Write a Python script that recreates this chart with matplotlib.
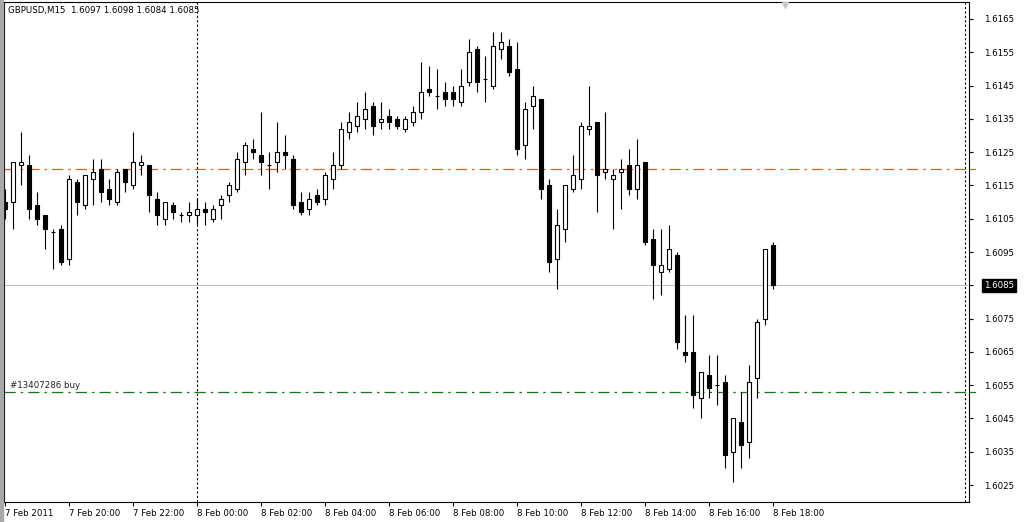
import matplotlib.pyplot as plt
from matplotlib.patches import Rectangle
import matplotlib.transforms as mtransforms
import numpy as np

# GBPUSD M15, bars from 7 Feb 2011 18:00 to 8 Feb 2011 18:00
opens = [1.6110, 1.6110, 1.6121, 1.6121, 1.6109, 1.6106, 1.6101, 1.6102, 1.6093, 1.6116,
         1.6109, 1.6117, 1.6120, 1.6114, 1.6110, 1.6120, 1.6115, 1.6121, 1.6121, 1.6111,
         1.6105, 1.6109, 1.6106, 1.6106, 1.6106, 1.6108, 1.6105, 1.6109, 1.6112, 1.6114,
         1.6122, 1.6126, 1.6124, 1.6121, 1.6122, 1.6125, 1.6123, 1.6110, 1.6108, 1.6112,
         1.6111, 1.6117, 1.6121, 1.6131, 1.6133, 1.6135, 1.6139, 1.6134, 1.6136, 1.6135,
         1.6132, 1.6134, 1.6137, 1.6144, 1.6142, 1.6143, 1.6143, 1.6140, 1.6146, 1.6156,
         1.6147, 1.6145, 1.6156, 1.6157, 1.6150, 1.6127, 1.6139, 1.6141, 1.6115, 1.6093,
         1.6102, 1.6114, 1.6117, 1.6132, 1.6134, 1.6119, 1.6117, 1.6119, 1.6121, 1.6114,
         1.6122, 1.6099, 1.6089, 1.6090, 1.6094, 1.6065, 1.6065, 1.6051, 1.6058, 1.6055,
         1.6056, 1.6035, 1.6044, 1.6038, 1.6057, 1.6075, 1.6097]
highs = [1.6114, 1.6122, 1.6131, 1.6124, 1.6113, 1.6106, 1.6102, 1.6103, 1.6118, 1.6117,
         1.6118, 1.6123, 1.6123, 1.6117, 1.6120, 1.6120, 1.6131, 1.6124, 1.6121, 1.6113,
         1.6110, 1.6110, 1.6107, 1.6110, 1.6111, 1.6110, 1.6109, 1.6112, 1.6116, 1.6125,
         1.6128, 1.6129, 1.6137, 1.6125, 1.6134, 1.6130, 1.6124, 1.6113, 1.6113, 1.6114,
         1.6119, 1.6125, 1.6134, 1.6137, 1.6140, 1.6143, 1.6140, 1.6140, 1.6138, 1.6136,
         1.6136, 1.6139, 1.6152, 1.6151, 1.6150, 1.6146, 1.6145, 1.6150, 1.6159, 1.6157,
         1.6154, 1.6161, 1.6161, 1.6159, 1.6158, 1.6140, 1.6145, 1.6141, 1.6117, 1.6108,
         1.6115, 1.6124, 1.6134, 1.6145, 1.6134, 1.6137, 1.6120, 1.6123, 1.6126, 1.6129,
         1.6122, 1.6102, 1.6102, 1.6103, 1.6095, 1.6076, 1.6076, 1.6059, 1.6064, 1.6064,
         1.6058, 1.6045, 1.6053, 1.6061, 1.6075, 1.6096, 1.6098]
lows = [1.6105, 1.6102, 1.6115, 1.6105, 1.6103, 1.6096, 1.6090, 1.6091, 1.6091, 1.6106,
        1.6108, 1.6109, 1.6110, 1.6109, 1.6109, 1.6113, 1.6114, 1.6118, 1.6107, 1.6103,
        1.6103, 1.6105, 1.6104, 1.6104, 1.6103, 1.6103, 1.6104, 1.6105, 1.6110, 1.6113,
        1.6118, 1.6123, 1.6118, 1.6114, 1.6119, 1.6120, 1.6108, 1.6106, 1.6106, 1.6109,
        1.6109, 1.6114, 1.6120, 1.6129, 1.6131, 1.6132, 1.6130, 1.6132, 1.6132, 1.6132,
        1.6131, 1.6133, 1.6135, 1.6142, 1.6138, 1.6139, 1.6139, 1.6139, 1.6145, 1.6143,
        1.6140, 1.6144, 1.6153, 1.6148, 1.6124, 1.6123, 1.6132, 1.6111, 1.6089, 1.6084,
        1.6098, 1.6113, 1.6114, 1.6130, 1.6107, 1.6117, 1.6102, 1.6108, 1.6112, 1.6111,
        1.6097, 1.6081, 1.6082, 1.6089, 1.6066, 1.6062, 1.6048, 1.6045, 1.6051, 1.6049,
        1.6030, 1.6026, 1.6030, 1.6033, 1.6051, 1.6073, 1.6084]
closes = [1.6108, 1.6122, 1.6122, 1.6108, 1.6105, 1.6102, 1.6101, 1.6092, 1.6117, 1.6110,
          1.6118, 1.6119, 1.6113, 1.6111, 1.6119, 1.6116, 1.6122, 1.6122, 1.6112, 1.6106,
          1.6110, 1.6107, 1.6106, 1.6107, 1.6108, 1.6107, 1.6108, 1.6111, 1.6115, 1.6123,
          1.6127, 1.6125, 1.6122, 1.6121, 1.6125, 1.6124, 1.6109, 1.6107, 1.6111, 1.6110,
          1.6118, 1.6121, 1.6132, 1.6134, 1.6136, 1.6138, 1.6133, 1.6135, 1.6134, 1.6133,
          1.6135, 1.6137, 1.6143, 1.6143, 1.6142, 1.6141, 1.6141, 1.6145, 1.6155, 1.6146,
          1.6147, 1.6157, 1.6158, 1.6149, 1.6126, 1.6138, 1.6142, 1.6114, 1.6092, 1.6103,
          1.6115, 1.6118, 1.6133, 1.6133, 1.6118, 1.6120, 1.6118, 1.6120, 1.6114, 1.6121,
          1.6098, 1.6091, 1.6091, 1.6096, 1.6068, 1.6064, 1.6052, 1.6059, 1.6054, 1.6055,
          1.6034, 1.6045, 1.6037, 1.6056, 1.6074, 1.6096, 1.6085]

time_labels = ["7 Feb 2011", "7 Feb 20:00", "7 Feb 22:00", "8 Feb 00:00", "8 Feb 02:00",
               "8 Feb 04:00", "8 Feb 06:00", "8 Feb 08:00", "8 Feb 10:00", "8 Feb 12:00",
               "8 Feb 14:00", "8 Feb 16:00", "8 Feb 18:00"]
price_ticks = [1.6025, 1.6035, 1.6045, 1.6055, 1.6065, 1.6075, 1.6085, 1.6095,
               1.6105, 1.6115, 1.6125, 1.6135, 1.6145, 1.6155, 1.6165]

bid = 1.6085
order_price = 1.6053
order_label = "#13407286 buy"
stop_price = 1.6120
day_breaks = [24, 120]   # bar index of 8 Feb 00:00 and 9 Feb 00:00

o = np.array(opens)
h = np.array(highs)
l = np.array(lows)
c = np.array(closes)
x = np.arange(len(o))

plt.rcParams['font.family'] = 'DejaVu Sans'
fs = 6.2
orange = '#d4622a'
green = '#17731a'

fig = plt.figure(figsize=(10.24, 5.22), dpi=100, facecolor='white')
ax = fig.add_axes([4/1024, 20/522, 965/1024, 500/522])
ax.set_facecolor('white')

# window frame on the left
fig.patches.append(Rectangle((0, 0), 3/1024, 1, transform=fig.transFigure,
                             color='#a8a8a8', zorder=0))

ax.set_xlim(-0.125, 120.5)
ax.set_ylim(1.60199, 1.61701)

# candles
ax.vlines(x, l, h, color='black', linewidth=0.8, zorder=3)
up = c >= o
body_col = np.where(up, 'white', 'black')
ax.bar(x, np.abs(c - o), bottom=np.minimum(o, c), width=0.62, color=body_col,
       edgecolor='black', linewidth=0.8, zorder=4)

# level lines
ax.axhline(bid, color='#c0c0c0', linewidth=0.8, zorder=1)
ax.axhline(stop_price, color=orange, linewidth=0.9, linestyle=(0, (9, 4, 2, 4)), zorder=2)
ax.axhline(order_price, color=green, linewidth=0.9, linestyle=(0, (9, 4, 2, 4)), zorder=2)
for d in day_breaks:
    ax.axvline(d, color='black', linewidth=0.8, linestyle=(0, (2, 2)), zorder=2)

ax.text(0.6, order_price + 0.00004, order_label, fontsize=fs, va='bottom', ha='left',
        color='#202020')
ax.text(0.004, 0.984, "GBPUSD,M15  %.4f %.4f %.4f %.4f" % (o[-1], h[-1], l[-1], c[-1]),
        transform=ax.transAxes, fontsize=fs, va='center', ha='left', color='black')

# chart shift marker
ax.plot([97.5], [1.61693], marker='v', color='#c8c8c8', markersize=5, clip_on=False, zorder=5)

# axes
for s in ax.spines.values():
    s.set_color('black')
    s.set_linewidth(0.8)

ax.set_xticks(np.arange(0, 97, 8))
ax.set_xticklabels(time_labels, ha='left', fontsize=fs)
ax.tick_params(axis='x', direction='out', length=3, width=0.8, pad=2)

ax.yaxis.tick_right()
ax.set_yticks(price_ticks)
ax.set_yticklabels(["" if abs(p - bid) < 1e-6 else "%.4f" % p for p in price_ticks], fontsize=fs)
ax.tick_params(axis='y', direction='out', length=3, width=0.8, pad=8)

trans = mtransforms.blended_transform_factory(ax.transAxes, ax.transData)
ax.text(1.0 + 15/965, bid, "%.4f" % bid, transform=trans, fontsize=fs, color='white',
        va='center', ha='left', bbox=dict(facecolor='black', edgecolor='black', pad=1.6))
# small markers of the order lines on the price scale
ax.plot([1.0, 1.0 + 6/965], [stop_price, stop_price], transform=trans, color=orange,
        linewidth=0.9, clip_on=False)
ax.plot([1.0, 1.0 + 6/965], [order_price, order_price], transform=trans, color=green,
        linewidth=0.9, clip_on=False)

fig.savefig('out.png', dpi=100, facecolor='white')
